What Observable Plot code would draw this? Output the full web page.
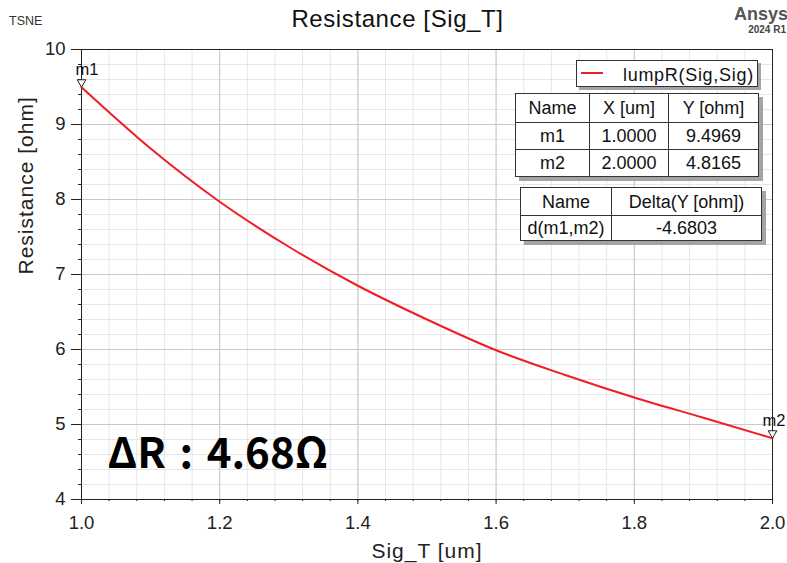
<!DOCTYPE html>
<html>
<head>
<meta charset="utf-8">
<script src="https://cdn.jsdelivr.net/npm/d3@7"></script>
<script src="https://cdn.jsdelivr.net/npm/@observablehq/plot@0.6"></script>
<style>
  html, body { margin: 0; padding: 0; background: #fff; }
  #wrap { position: relative; width: 787px; height: 563px; overflow: hidden; background: #fff;
          font-family: "Liberation Sans", Arial, sans-serif; color: #111; }
  #chart { position: absolute; left: 0; top: 0; }
  .abs { position: absolute; line-height: 1; white-space: nowrap; }
  table.mk { position: absolute; border-collapse: collapse; table-layout: fixed; background: #fff;
             box-shadow: 4px 4px 0 #a4a4a4; font-size: 18px; }
  table.mk td { border: 1px solid #333; text-align: center; padding: 0; line-height: 1; }
  .delta-label { word-spacing: 4px; }
  .axis-label { letter-spacing: 1px; }
</style>
</head>
<body>
<div id="wrap">
  <div id="chart"></div>
  <div class="abs" style="left:9px;top:15px;font-size:12.5px;color:#333;">TSNE</div>
  <div class="abs" id="title" style="left:0;width:795px;text-align:center;top:7px;font-size:24px;letter-spacing:0.6px;"></div>
  <div class="abs" style="right:-1px;top:5px;font-size:18px;font-weight:bold;color:#555;">Ansys</div>
  <div class="abs" style="right:1px;top:25px;font-size:10px;font-weight:bold;color:#444;">2024 R1</div>
  <div class="abs" id="legend" style="left:576px;top:60px;width:182px;height:27px;box-sizing:border-box;border:1px solid #333;background:#fff;box-shadow:3px 3px 0 #a4a4a4;">
    <div class="abs" id="legendSwatch" style="left:4px;top:11px;width:22px;height:2px;"></div>
    <div class="abs" id="legendText" style="left:46px;top:5px;font-size:18px;letter-spacing:0.7px;"></div>
  </div>
  <table class="mk" id="markerTable" style="left:515px;top:93px;width:243px;"></table>
  <table class="mk" id="deltaTable" style="left:520px;top:187px;width:241px;"></table>
</div>
<script>
// Swept resistance of lumpR(Sig,Sig) against the trace width Sig_T
const sigT = [1.0, 1.1, 1.2, 1.3, 1.4, 1.5, 1.6, 1.7, 1.8, 1.9, 2.0];
const resistance = [9.4969, 8.68, 7.97, 7.37, 6.85, 6.40, 5.99, 5.66, 5.36, 5.09, 4.8165];

// Markers m1 / m2 and their difference
const markerNames = ["m1", "m2"];
const markerX = [1.0, 2.0];
const markerY = [9.4969, 4.8165];
const deltaNames = ["d(m1,m2)"];
const deltaY = [-4.6803];

// Axis ticks
const xTicks = [1.0, 1.2, 1.4, 1.6, 1.8, 2.0];
const yTicks = [4, 5, 6, 7, 8, 9, 10];
const xMinor = d3.range(0, 26).map(i => +(1 + i * 0.04).toFixed(2));
const yMinor = d3.range(0, 31).map(i => +(4 + i * 0.2).toFixed(1));

const titleText = "Resistance [Sig_T]";
const seriesName = "lumpR(Sig,Sig)";
const xLabel = "Sig_T [um]";
const yLabel = "Resistance [ohm]";
const curveColor = "#f21c24";

const curve = sigT.map((x, i) => ({x, y: resistance[i]}));
const markers = markerNames.map((name, i) => ({name, x: markerX[i], y: markerY[i]}));
const deltaLabel = `ΔR : ${Math.abs(deltaY[0]).toFixed(2)}Ω`;

const font = "Liberation Sans, Arial, sans-serif";

const chart = Plot.plot({
  width: 787,
  height: 563,
  marginLeft: 81,
  marginRight: 15,
  marginTop: 49,
  marginBottom: 64,
  style: {fontFamily: font, background: "transparent", overflow: "visible"},
  x: {domain: [1, 2], label: null},
  y: {domain: [4, 10], label: null},
  marks: [
    Plot.gridX(xMinor, {stroke: "#e6e6e6", strokeOpacity: 1}),
    Plot.gridY(yMinor, {stroke: "#e6e6e6", strokeOpacity: 1}),
    Plot.gridX(xTicks, {stroke: "#c9c9c9", strokeOpacity: 1}),
    Plot.gridY(yTicks, {stroke: "#c9c9c9", strokeOpacity: 1}),
    Plot.axisY(yMinor, {tickSize: 3, text: null, stroke: "#222", label: null}),
    Plot.axisY(yTicks, {tickSize: 10, tickPadding: 6, fontSize: 18.5, fill: "#222", stroke: "#222",
      tickFormat: d3.format("d"), label: null}),
    Plot.axisX(xMinor, {tickSize: 2, text: null, stroke: "#222", label: null}),
    Plot.axisX(xTicks, {tickSize: 5, tickPadding: 11, fontSize: 18.5, fill: "#222", stroke: "#222",
      tickFormat: d3.format(".1f"), label: null}),
    Plot.text([xLabel], {frameAnchor: "bottom", dy: 58, fontSize: 21, fill: "#222", lineAnchor: "bottom",
      className: "axis-label"}),
    Plot.text([yLabel], {frameAnchor: "left", dx: -55, rotate: -90, fontSize: 21, fill: "#222",
      className: "axis-label"}),
    Plot.frame({stroke: "#222"}),
    Plot.line(curve, {x: "x", y: "y", stroke: curveColor, strokeWidth: 2, curve: "monotone-x"}),
    Plot.dot(markers, {x: "x", y: "y", symbol: "triangle", rotate: 180, r: 3.2, dy: -5,
      fill: "white", stroke: "#222", strokeWidth: 1}),
    // first marker label sits right of the point, the last one is pulled in from the edge
    Plot.text(markers.slice(0, 1), {x: "x", y: "y", text: "name", textAnchor: "start", lineAnchor: "bottom",
      dx: -6, dy: -12, fontSize: 16.5, fill: "#111"}),
    Plot.text(markers.slice(1), {x: "x", y: "y", text: "name", textAnchor: "end", lineAnchor: "bottom",
      dx: 13, dy: -12, fontSize: 16.5, fill: "#111"}),
    Plot.text([deltaLabel], {frameAnchor: "bottom-left", textAnchor: "start", lineAnchor: "bottom",
      dx: 26, dy: -32, fontSize: 42, fontWeight: "bold", fill: "#000", className: "delta-label",
      fontFamily: "Noto Sans CJK KR, Noto Sans, sans-serif"})
  ]
});
document.getElementById("chart").appendChild(chart);

// Title and legend
document.getElementById("title").textContent = titleText;
document.getElementById("legendSwatch").style.background = curveColor;
document.getElementById("legendText").textContent = seriesName;

// Marker readout tables (plain hyphen for negatives)
const fmt4 = v => v.toFixed(4);
const mt = document.getElementById("markerTable");
mt.innerHTML =
  `<colgroup><col style="width:74px"><col style="width:79px"><col style="width:90px"></colgroup>` +
  `<tr style="height:29px"><td>Name</td><td>X [um]</td><td>Y [ohm]</td></tr>` +
  markers.map(m => `<tr style="height:27px"><td>${m.name}</td><td>${fmt4(m.x)}</td><td>${fmt4(m.y)}</td></tr>`).join("");

const dt = document.getElementById("deltaTable");
dt.innerHTML =
  `<colgroup><col style="width:91px"><col style="width:150px"></colgroup>` +
  `<tr style="height:28px"><td>Name</td><td>Delta(Y [ohm])</td></tr>` +
  deltaNames.map((n, i) => `<tr style="height:25px"><td>${n}</td><td>${fmt4(deltaY[i])}</td></tr>`).join("");
</script>
</body>
</html>
